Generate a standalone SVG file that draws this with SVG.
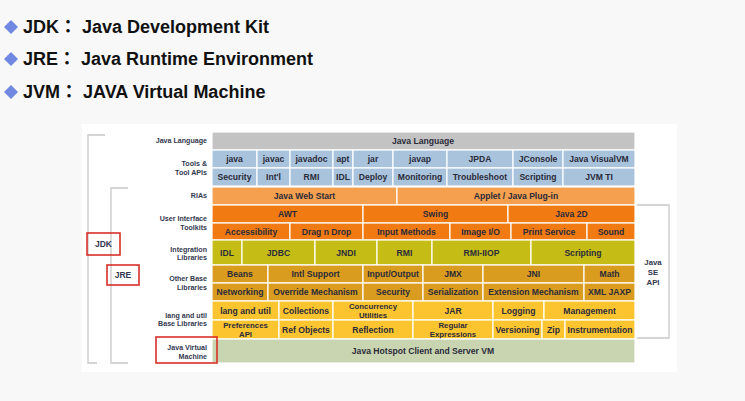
<svg xmlns="http://www.w3.org/2000/svg" width="745" height="401" viewBox="0 0 745 401">
<defs>
<style>
.hd{font-family:"Liberation Sans","Noto Sans CJK JP",sans-serif;font-weight:bold;font-size:18px;fill:#111}
.dm{fill:#7088e0}
.c rect{stroke:#ffffff;stroke-width:1.2}
.c text{font-family:"Liberation Sans",Arial,sans-serif;font-weight:bold;font-size:8.6px;fill:#2b2b3a;text-anchor:middle}
.c text.s{font-size:7.8px}
.lb{font-family:"Liberation Sans",Arial,sans-serif;font-weight:bold;font-size:7.1px;fill:#33384f;text-anchor:end}
.bx{font-family:"Liberation Sans",Arial,sans-serif;font-weight:bold;font-size:8.5px;fill:#33384f;text-anchor:middle}
.br{fill:none;stroke:#c8c8c8;stroke-width:1.3}
.rb{fill:none;stroke:#d8302a;stroke-width:1.6}
.g0{fill:#c3c3c3}.g1{fill:#a9c3dc}.g2{fill:#f5a04e}.g3{fill:#f27a12}.g4{fill:#c5bd16}.g5{fill:#d99c1e}.g6{fill:#fcc530}.g7{fill:#c9d4b1}
</style>
</defs>
<rect width="745" height="401" fill="#f8f8f8"/>
<rect x="82" y="124" width="595" height="248" fill="#ffffff"/>

<g id="header">
<path class="dm" d="M4 27 L11 20 L18 27 L11 34 Z"/>
<text class="hd" x="23" y="33">JDK： Java Development Kit</text>
<path class="dm" d="M4 59 L11 52 L18 59 L11 66 Z"/>
<text class="hd" x="23" y="65">JRE： Java Runtime Environment</text>
<path class="dm" d="M4 92 L11 85 L18 92 L11 99 Z"/>
<text class="hd" x="23" y="98">JVM： JAVA Virtual Machine</text>
</g>

<g id="connectors">
<path class="br" d="M105 135 H88 V363 H97"/>
<path class="br" d="M128 188 H111 V363 H128"/>
<path class="br" d="M637 205 H669 V338 H637"/>
</g>

<g id="labels">
<text class="lb" x="207" y="143">Java Language</text>
<text class="lb" x="207" y="166">Tools &amp;</text>
<text class="lb" x="207" y="175">Tool APIs</text>
<text class="lb" x="207" y="198">RIAs</text>
<text class="lb" x="207" y="221">User Interface</text>
<text class="lb" x="207" y="230">Toolkits</text>
<text class="lb" x="207" y="252">Integration</text>
<text class="lb" x="207" y="260">Libraries</text>
<text class="lb" x="207" y="281">Other Base</text>
<text class="lb" x="207" y="290">Libraries</text>
<text class="lb" x="207" y="318">lang and util</text>
<text class="lb" x="207" y="326">Base Libraries</text>
<text class="lb" x="207" y="350">Java Virtual</text>
<text class="lb" x="207" y="359">Machine</text>
<text class="bx" x="653" y="265" style="font-size:7.8px">Java</text>
<text class="bx" x="653" y="275" style="font-size:7.8px">SE</text>
<text class="bx" x="653" y="285" style="font-size:7.8px">API</text>
</g>

<g id="jdk-box"><rect class="rb" x="87" y="233" width="33" height="22"/><text class="bx" x="103.5" y="247">JDK</text></g>
<g id="jre-box"><rect class="rb" x="107" y="265" width="32" height="20"/><text class="bx" x="123" y="278">JRE</text></g>

<g class="c">
<g id="java-language"><rect class="g0" x="212" y="132" width="423" height="18"/><text x="423" y="144">Java Language</text></g>

<g id="t-java"><rect class="g1" x="212" y="150" width="45" height="18"/><text x="234.5" y="162">java</text></g>
<g id="t-javac"><rect class="g1" x="257" y="150" width="33" height="18"/><text x="273.5" y="162">javac</text></g>
<g id="t-javadoc"><rect class="g1" x="290" y="150" width="43" height="18"/><text x="311.5" y="162">javadoc</text></g>
<g id="t-apt"><rect class="g1" x="333" y="150" width="20" height="18"/><text x="343" y="162">apt</text></g>
<g id="t-jar"><rect class="g1" x="353" y="150" width="40" height="18"/><text x="373" y="162">jar</text></g>
<g id="t-javap"><rect class="g1" x="393" y="150" width="54" height="18"/><text x="420" y="162">javap</text></g>
<g id="t-jpda"><rect class="g1" x="447" y="150" width="66" height="18"/><text x="480" y="162">JPDA</text></g>
<g id="t-jconsole"><rect class="g1" x="513" y="150" width="50" height="18"/><text x="538" y="162">JConsole</text></g>
<g id="t-visualvm"><rect class="g1" x="563" y="150" width="72" height="18"/><text x="599" y="162">Java VisualVM</text></g>

<g id="t-security"><rect class="g1" x="212" y="168" width="45" height="18"/><text x="234.5" y="180">Security</text></g>
<g id="t-intl"><rect class="g1" x="257" y="168" width="33" height="18"/><text x="273.5" y="180">Int'l</text></g>
<g id="t-rmi"><rect class="g1" x="290" y="168" width="43" height="18"/><text x="311.5" y="180">RMI</text></g>
<g id="t-idl"><rect class="g1" x="333" y="168" width="20" height="18"/><text x="343" y="180">IDL</text></g>
<g id="t-deploy"><rect class="g1" x="353" y="168" width="40" height="18"/><text x="373" y="180">Deploy</text></g>
<g id="t-monitoring"><rect class="g1" x="393" y="168" width="54" height="18"/><text x="420" y="180">Monitoring</text></g>
<g id="t-troubleshoot"><rect class="g1" x="447" y="168" width="66" height="18"/><text x="480" y="180">Troubleshoot</text></g>
<g id="t-scripting"><rect class="g1" x="513" y="168" width="50" height="18"/><text x="538" y="180">Scripting</text></g>
<g id="t-jvmti"><rect class="g1" x="563" y="168" width="72" height="18"/><text x="599" y="180">JVM TI</text></g>

<g id="r-webstart"><rect class="g2" x="212" y="187" width="185" height="18"/><text x="304.5" y="199">Java Web Start</text></g>
<g id="r-applet"><rect class="g2" x="397" y="187" width="238" height="18"/><text x="516" y="199">Applet / Java Plug-in</text></g>

<g id="u-awt"><rect class="g3" x="212" y="205" width="151" height="18"/><text x="287.5" y="217">AWT</text></g>
<g id="u-swing"><rect class="g3" x="363" y="205" width="145" height="18"/><text x="435.5" y="217">Swing</text></g>
<g id="u-java2d"><rect class="g3" x="508" y="205" width="127" height="18"/><text x="571.5" y="217">Java 2D</text></g>
<g id="u-access"><rect class="g3" x="212" y="223" width="78" height="17"/><text x="251" y="234.5">Accessibility</text></g>
<g id="u-dnd"><rect class="g3" x="290" y="223" width="73" height="17"/><text x="326.5" y="234.5">Drag n Drop</text></g>
<g id="u-input"><rect class="g3" x="363" y="223" width="87" height="17"/><text x="406.5" y="234.5">Input Methods</text></g>
<g id="u-imageio"><rect class="g3" x="450" y="223" width="61" height="17"/><text x="480.5" y="234.5">Image I/O</text></g>
<g id="u-print"><rect class="g3" x="511" y="223" width="76" height="17"/><text x="549" y="234.5">Print Service</text></g>
<g id="u-sound"><rect class="g3" x="587" y="223" width="48" height="17"/><text x="611" y="234.5">Sound</text></g>

<g id="i-idl"><rect class="g4" x="212" y="240" width="30" height="25"/><text x="227" y="255.5">IDL</text></g>
<g id="i-jdbc"><rect class="g4" x="242" y="240" width="73" height="25"/><text x="278.5" y="255.5">JDBC</text></g>
<g id="i-jndi"><rect class="g4" x="315" y="240" width="62" height="25"/><text x="346" y="255.5">JNDI</text></g>
<g id="i-rmi"><rect class="g4" x="377" y="240" width="55" height="25"/><text x="404.5" y="255.5">RMI</text></g>
<g id="i-rmiiiop"><rect class="g4" x="432" y="240" width="99" height="25"/><text x="481.5" y="255.5">RMI-IIOP</text></g>
<g id="i-scripting"><rect class="g4" x="531" y="240" width="104" height="25"/><text x="583" y="255.5">Scripting</text></g>

<g id="o-beans"><rect class="g5" x="212" y="265" width="56" height="18"/><text x="240" y="277">Beans</text></g>
<g id="o-intl"><rect class="g5" x="268" y="265" width="95" height="18"/><text x="315.5" y="277">Intl Support</text></g>
<g id="o-io"><rect class="g5" x="363" y="265" width="60" height="18"/><text x="393" y="277">Input/Output</text></g>
<g id="o-jmx"><rect class="g5" x="423" y="265" width="60" height="18"/><text x="453" y="277">JMX</text></g>
<g id="o-jni"><rect class="g5" x="483" y="265" width="101" height="18"/><text x="533.5" y="277">JNI</text></g>
<g id="o-math"><rect class="g5" x="584" y="265" width="51" height="18"/><text x="609.5" y="277">Math</text></g>
<g id="o-net"><rect class="g5" x="212" y="283" width="56" height="18"/><text x="240" y="295">Networking</text></g>
<g id="o-override"><rect class="g5" x="268" y="283" width="95" height="18"/><text x="315.5" y="295">Override Mechanism</text></g>
<g id="o-security"><rect class="g5" x="363" y="283" width="60" height="18"/><text x="393" y="295">Security</text></g>
<g id="o-serial"><rect class="g5" x="423" y="283" width="60" height="18"/><text x="453" y="295">Serialization</text></g>
<g id="o-ext"><rect class="g5" x="483" y="283" width="101" height="18"/><text x="533.5" y="295">Extension Mechanism</text></g>
<g id="o-xml"><rect class="g5" x="584" y="283" width="51" height="18"/><text x="609.5" y="295">XML JAXP</text></g>

<g id="l-lang"><rect class="g6" x="212" y="301" width="67" height="19"/><text x="245.5" y="313.5">lang and util</text></g>
<g id="l-coll"><rect class="g6" x="279" y="301" width="54" height="19"/><text x="306" y="313.5">Collections</text></g>
<g id="l-conc"><rect class="g6" x="333" y="301" width="80" height="19"/><text class="s" x="373" y="309">Concurrency</text><text class="s" x="373" y="318">Utilities</text></g>
<g id="l-jar"><rect class="g6" x="413" y="301" width="80" height="19"/><text x="453" y="313.5">JAR</text></g>
<g id="l-logging"><rect class="g6" x="493" y="301" width="51" height="19"/><text x="518.5" y="313.5">Logging</text></g>
<g id="l-mgmt"><rect class="g6" x="544" y="301" width="91" height="19"/><text x="589.5" y="313.5">Management</text></g>
<g id="l-prefs"><rect class="g6" x="212" y="320" width="67" height="19"/><text class="s" x="245.5" y="328">Preferences</text><text class="s" x="245.5" y="337">API</text></g>
<g id="l-ref"><rect class="g6" x="279" y="320" width="54" height="19"/><text x="306" y="332.5">Ref Objects</text></g>
<g id="l-reflect"><rect class="g6" x="333" y="320" width="80" height="19"/><text x="373" y="332.5">Reflection</text></g>
<g id="l-regex"><rect class="g6" x="413" y="320" width="80" height="19"/><text class="s" x="453" y="328">Regular</text><text class="s" x="453" y="337">Expressions</text></g>
<g id="l-version"><rect class="g6" x="493" y="320" width="49" height="19"/><text x="517.5" y="332.5">Versioning</text></g>
<g id="l-zip"><rect class="g6" x="542" y="320" width="23" height="19"/><text x="553.5" y="332.5">Zip</text></g>
<g id="l-instr"><rect class="g6" x="565" y="320" width="70" height="19"/><text x="600" y="332.5">Instrumentation</text></g>

<g id="jvm"><rect class="g7" x="212" y="339" width="423" height="24"/><text x="423" y="354">Java Hotspot Client and Server VM</text></g>
</g>

<g id="jvm-box"><rect class="rb" x="156" y="337" width="61" height="26"/></g>
</svg>
